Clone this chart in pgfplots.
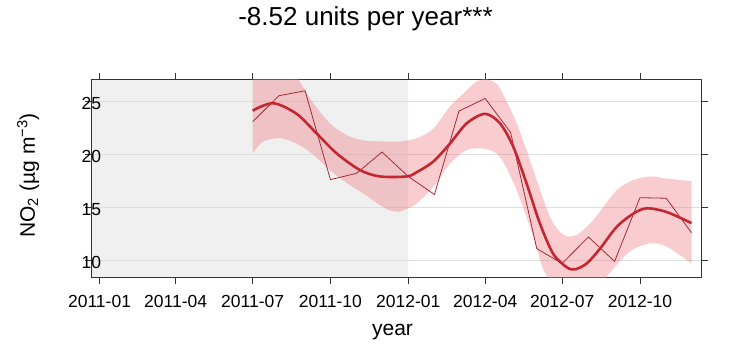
\documentclass[border=0pt]{standalone}
\usepackage{pgfplots}
\pgfplotsset{compat=1.18}
\usepgfplotslibrary{fillbetween}
\usepackage{fontspec}
\setmainfont{Liberation Sans}
\definecolor{trendred}{RGB}{195,40,50}
\definecolor{thinred}{RGB}{160,45,55}
\definecolor{bandred}{RGB}{238,120,128}
\definecolor{shade}{RGB}{240,240,240}
\definecolor{gridc}{RGB}{222,222,222}
\begin{document}
\begin{tikzpicture}
\begin{axis}[
  at={(0pt,0pt)}, anchor=south west,
  set layers=standard,
  scale only axis,
  width=609.3pt, height=198.3pt,
  xmin=-9.3, xmax=711.2,
  ymin=8.4, ymax=27.08,
  xtick={0,90,181,273,365,456,547,639},
  xticklabels={2011-01,2011-04,2011-07,2011-10,2012-01,2012-04,2012-07,2012-10},
  ytick={10,15,20,25},
  tick align=outside,
  major tick length=6.5pt,
  tick style={black!80, line width=0.7pt},
  xtick pos=both, ytick pos=both,
  xticklabel pos=lower, yticklabel pos=left,
  /pgf/number format/assume math mode=true,
  ticklabel style={font=\fontsize{17.5}{20}\selectfont},
  xticklabel style={anchor=base, yshift=-23.3pt},
  yticklabel style={anchor=east, inner sep=0pt, xshift=16pt, yshift=-2.5pt},
  axis line style={black!80, line width=0.7pt},
  ymajorgrids,
  major grid style={gridc, line width=0.6pt},
  title={-8.52 units per year***},
  title style={at={(axis description cs:0.4494,1.2385)}, anchor=base, font=\fontsize{26}{30}\selectfont},
  xlabel={year},
  every axis x label/.style={at={(axis description cs:0.4937,-0.291)}, anchor=base, font=\fontsize{21}{24}\selectfont},
  ylabel={NO\textsubscript{2} (µg m\textsuperscript{−3})},
  every axis y label/.style={at={(axis description cs:-0.0931,0.514)}, anchor=base, rotate=90, font=\fontsize{21}{24}\selectfont},
]
% grey (background) period
\addplot[on layer=axis background, fill=shade, draw=none, forget plot] coordinates {(-9.3,8.4) (365,8.4) (365,27.08) (-9.3,27.08) (-9.3,8.4)};

% confidence band
\addplot[name path=U, draw=none, smooth, forget plot] coordinates {
(181,28.3) (195,28.8) (210,28.7) (225,28.0) (233,27.3) (240,26.4) (252.7,24.8) (272.4,22.9) (292,21.8)
(311.8,21.3) (331.6,21.2) (355,21.2) (375,21.5) (394.6,22.4) (414.4,24.5) (434.1,26.0) (445,26.8)
(455.8,27.1) (466,26.8) (473.5,26.2) (493.3,22.9) (512.9,18.5) (532.6,14.1) (548.4,12.4) (564.2,12.4)
(583.8,13.8) (611.5,16.6) (631.2,17.55) (650.9,17.9) (670.6,17.7) (700,17.45)};
\addplot[name path=L, draw=none, smooth, forget plot] coordinates {
(181,20.07) (193.6,21.2) (213.4,21.5) (233,21.0) (252,20.0) (272.4,18.5) (292,17.3) (311.8,16.3)
(331.6,15.2) (343.4,14.7) (355.2,14.6) (365,14.9) (375,15.35) (394.6,16.9) (414.4,19.1) (434.1,20.4)
(455.8,20.5) (473.5,19.75) (493.3,16.6) (512.9,12.2) (524.7,9.15) (540,7.5) (562,6.9) (585,7.6)
(601,8.6) (615,9.9) (630,11.0) (651,11.6) (670.6,11.3) (700,9.7)};
\addplot[bandred, fill opacity=0.38, draw=none] fill between[of=U and L];

% monthly means
\addplot[thinred, line width=0.8pt] coordinates {
(181,23.05) (212,25.5) (243,25.97) (273,17.6) (304,18.2) (334,20.2) (365,17.9) (396,16.2)
(425,24.06) (456,25.25) (486,22.05) (517,11.1) (547,9.7) (578,12.2) (609,9.9) (639,15.9)
(670,15.85) (700,12.6)};

% smooth trend
\addplot[trendred, line width=2.6pt, smooth] coordinates {
(181,24.1) (205.4,24.8) (233,23.8) (256.7,21.95) (280.4,20.07) (308,18.5) (331.6,17.9) (363.2,17.9)
(375,18.3) (394.6,19.3) (414.4,21.0) (434.1,22.9) (455.8,23.8) (473.5,22.9) (489.2,20.7) (505.1,17.2)
(520.8,13.45) (536.5,10.6) (552.4,9.35) (562.2,9.15) (576,9.7) (591.8,11.1) (611.5,13.15) (631.2,14.4)
(647,14.9) (670.6,14.55) (700,13.5)};
\end{axis}
\pgfresetboundingbox
\path[use as bounding box] (-91.7pt,-84.7pt) rectangle (651.3pt,277.3pt);
\end{tikzpicture}
\end{document}
